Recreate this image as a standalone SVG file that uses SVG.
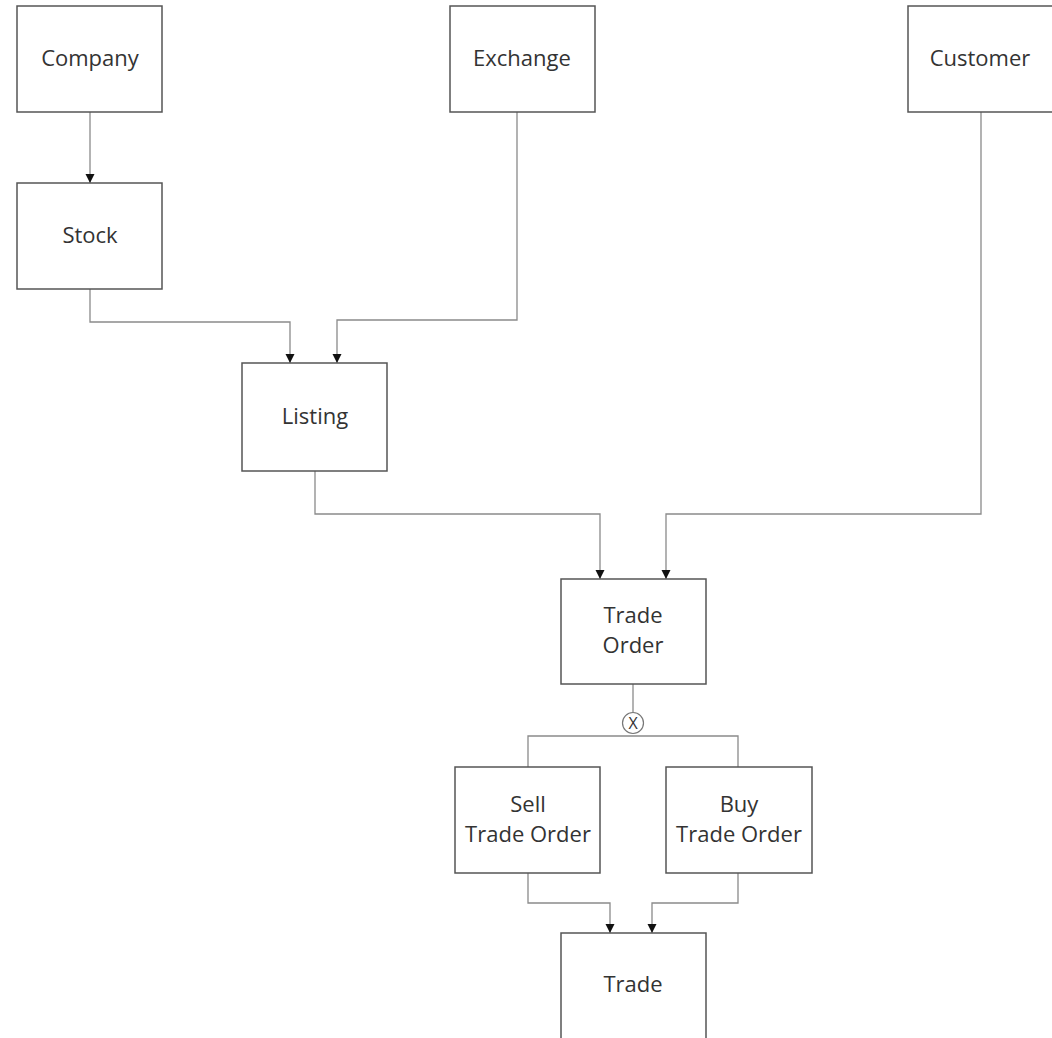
<svg xmlns="http://www.w3.org/2000/svg" width="1052" height="1038" viewBox="0 0 1052 1038">
<style>
.box{fill:#fff;stroke:#555;stroke-width:1.5}
.lbl{font-family:"Open Sans","Liberation Sans",sans-serif;font-size:22px;fill:#333;text-anchor:middle}
.conn{fill:none;stroke:#8a8a8a;stroke-width:1.3}
</style>
<defs>
<marker id="arr" markerWidth="11" markerHeight="11" refX="10" refY="5.5" orient="auto" markerUnits="userSpaceOnUse">
<path d="M1,1 L10,5.5 L1,10 Z" fill="#111"/>
</marker>
</defs>
<rect width="1052" height="1038" fill="#fff"/>
<g id="connectors">
<path class="conn" d="M90,112 V183" marker-end="url(#arr)"/>
<path class="conn" d="M90,289 V322 H290 V363" marker-end="url(#arr)"/>
<path class="conn" d="M517,112 V320 H337 V363" marker-end="url(#arr)"/>
<path class="conn" d="M315,471 V514 H600 V579" marker-end="url(#arr)"/>
<path class="conn" d="M981,112 V514 H666 V579" marker-end="url(#arr)"/>
<path class="conn" d="M633,684 V712"/>
<path class="conn" d="M528,767 V736 H738 V767"/>
<path class="conn" d="M528,873 V903 H610 V933" marker-end="url(#arr)"/>
<path class="conn" d="M738,873 V903 H652 V933" marker-end="url(#arr)"/>
</g>
<g id="xor">
<circle cx="633" cy="723" r="10.5" fill="#fff" stroke="#777" stroke-width="1.2"/>
<text x="633" y="729" font-family="'Open Sans','Liberation Sans',sans-serif" font-size="16" fill="#333" text-anchor="middle">X</text>
</g>
<g id="company"><rect class="box" x="17" y="6" width="145" height="106"/><text class="lbl" x="90" y="66">Company</text></g>
<g id="exchange"><rect class="box" x="450" y="6" width="145" height="106"/><text class="lbl" x="522" y="66">Exchange</text></g>
<g id="customer"><rect class="box" x="908" y="6" width="146" height="106"/><text class="lbl" x="980" y="66">Customer</text></g>
<g id="stock"><rect class="box" x="17" y="183" width="145" height="106"/><text class="lbl" x="90" y="243">Stock</text></g>
<g id="listing"><rect class="box" x="242" y="363" width="145" height="108"/><text class="lbl" x="315" y="424">Listing</text></g>
<g id="trade-order"><rect class="box" x="561" y="579" width="145" height="105"/><text class="lbl" x="633" y="623">Trade</text><text class="lbl" x="633" y="653">Order</text></g>
<g id="sell-trade-order"><rect class="box" x="455" y="767" width="145" height="106"/><text class="lbl" x="528" y="812">Sell</text><text class="lbl" x="528" y="842">Trade Order</text></g>
<g id="buy-trade-order"><rect class="box" x="666" y="767" width="146" height="106"/><text class="lbl" x="739" y="812">Buy</text><text class="lbl" x="739" y="842">Trade Order</text></g>
<g id="trade"><rect class="box" x="561" y="933" width="145" height="106"/><text class="lbl" x="633" y="992">Trade</text></g>
</svg>
